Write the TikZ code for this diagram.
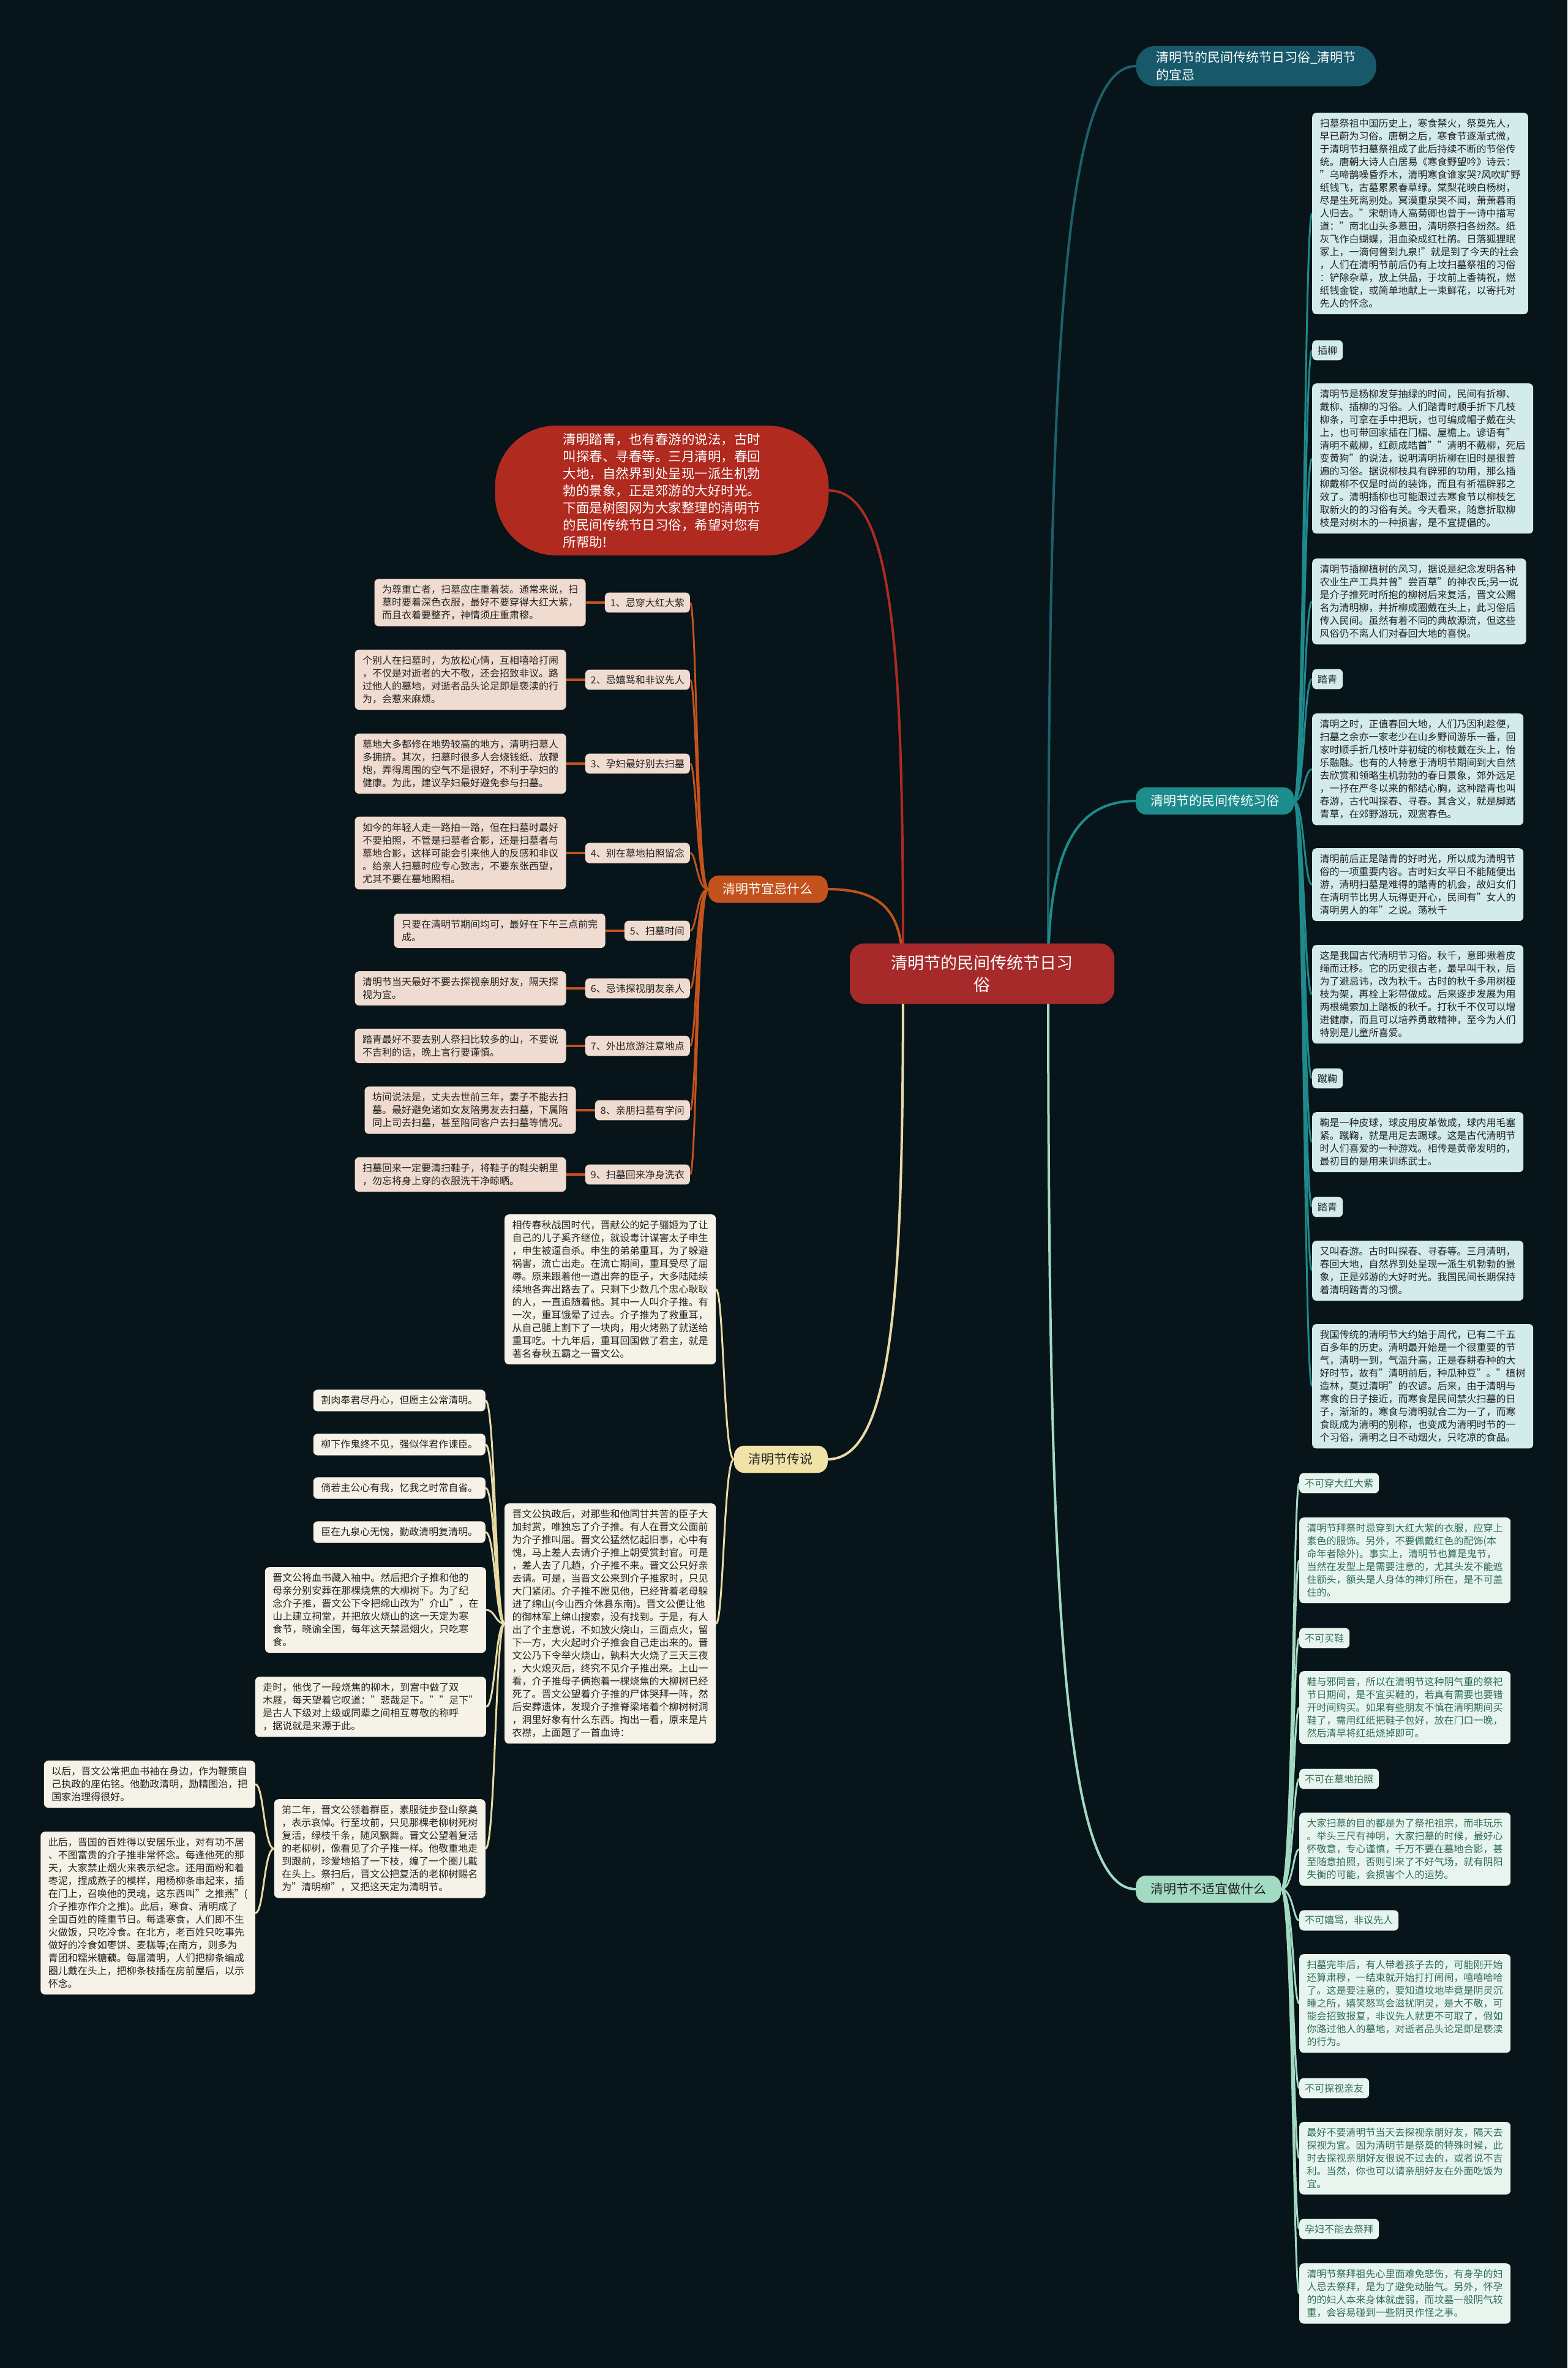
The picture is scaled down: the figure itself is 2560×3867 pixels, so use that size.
\documentclass[tikz,border=0pt]{standalone}
\usepackage{fontspec}
\setmainfont{Noto Sans CJK SC}
\usetikzlibrary{positioning,calc}
\definecolor{bgc}{HTML}{071419}
\definecolor{rootc}{HTML}{A62A2A}
\definecolor{redc}{HTML}{B02A1F}
\definecolor{topc}{HTML}{17596A}
\definecolor{topcon}{HTML}{1E5F6C}
\definecolor{abr}{HTML}{1C8C8C}
\definecolor{afill}{HTML}{D3EBEB}
\definecolor{acon}{HTML}{1F8A8C}
\definecolor{bbr}{HTML}{C4521D}
\definecolor{bfill}{HTML}{F0DBD0}
\definecolor{bcon}{HTML}{C4521D}
\definecolor{cbr}{HTML}{F1E2A8}
\definecolor{cfill}{HTML}{F6F2E7}
\definecolor{ccon}{HTML}{E8DAA4}
\definecolor{dbr}{HTML}{A3DAC2}
\definecolor{dfill}{HTML}{E8F5EF}
\definecolor{dcon}{HTML}{A3DAC2}
\definecolor{dtxt}{HTML}{2F6B58}
\definecolor{txt}{HTML}{232323}
\pgfdeclarelayer{bg}
\pgfsetlayers{bg,main}
\tikzset{
  base/.style={font=\fontsize{16}{21}\selectfont, align=left, rounded corners=7pt, inner ysep=10pt, inner xsep=12.5pt},
  lab/.style={base, inner xsep=9pt, inner ysep=9pt},
  atext/.style={base, fill=afill, text=txt, anchor=north west},
  alab/.style={lab, fill=afill, text=txt, anchor=west},
  dtext/.style={base, fill=dfill, text=dtxt, anchor=north west},
  dlab/.style={lab, fill=dfill, text=dtxt, anchor=west},
  btext/.style={base, fill=bfill, text=txt},
  blab/.style={lab, fill=bfill, text=txt, anchor=east},
  ctext/.style={base, fill=cfill, text=txt},
  branch/.style={font=\fontsize{21}{27}\selectfont, inner xsep=24pt, inner ysep=12.5pt, rounded corners=17pt},
  acn/.style={draw=acon, line width=3pt},
  bcn/.style={draw=bcon, line width=3pt},
  ccn/.style={draw=ccon, line width=3pt},
  dcn/.style={draw=dcon, line width=3pt},
}
\begin{document}
\begin{tikzpicture}[x=1pt,y=-1pt]
\begin{pgfonlayer}{bg}
\fill[bgc] (0,0) rectangle (2560,3867);
\end{pgfonlayer}
\useasboundingbox (0,0) rectangle (2560,3867);

% ---------- central nodes
\node[fill=rootc, text=white, rounded corners=24pt, minimum width=432pt, minimum height=99pt, align=center, font=\fontsize{27}{36}\selectfont] (root) at (1604,1590) {清明节的民间传统节日习\\俗};
\node[fill=redc, text=white, rounded corners=100pt, minimum width=545pt, minimum height=212pt, align=left, font=\fontsize{21.5}{28}\selectfont] (red) at (1081,801) {清明踏青，也有春游的说法，古时\\叫探春、寻春等。三月清明，春回\\大地，自然界到处呈现一派生机勃\\勃的景象，正是郊游的大好时光。\\下面是树图网为大家整理的清明节\\的民间传统节日习俗，希望对您有\\所帮助!};
\node[fill=topc, text=white, rounded corners=32pt, anchor=west, align=left, inner xsep=33pt, inner ysep=9pt, font=\fontsize{21}{29}\selectfont] (top) at (1855,108) {清明节的民间传统节日习俗\_清明节\\的宜忌};
\node[branch, fill=abr, text=white, anchor=west] (brA) at (1855,1308) {清明节的民间传统习俗};
\node[branch, fill=dbr, text=txt, anchor=west] (brD) at (1855,3085) {清明节不适宜做什么};
\node[branch, fill=bbr, text=white, anchor=east] (brB) at (1352,1452) {清明节宜忌什么};
\node[branch, fill=cbr, text=txt, anchor=east] (brC) at (1352,2383) {清明节传说};

% ---------- section A
\node[atext] (a1) at (2143,184) {扫墓祭祖中国历史上，寒食禁火，祭奠先人，\\早已蔚为习俗。唐朝之后，寒食节逐渐式微，\\于清明节扫墓祭祖成了此后持续不断的节俗传\\统。唐朝大诗人白居易《寒食野望吟》诗云：\\"乌啼鹊噪昏乔木，清明寒食谁家哭?风吹旷野\\纸钱飞，古墓累累春草绿。棠梨花映白杨树，\\尽是生死离别处。冥漠重泉哭不闻，萧萧暮雨\\人归去。"宋朝诗人高菊卿也曾于一诗中描写\\道："南北山头多墓田，清明祭扫各纷然。纸\\灰飞作白蝴蝶，泪血染成红杜鹃。日落狐狸眠\\冢上，一滴何曾到九泉!"就是到了今天的社会\\，人们在清明节前后仍有上坟扫墓祭祖的习俗\\：铲除杂草，放上供品，于坟前上香祷祝，燃\\纸钱金锭，或简单地献上一束鲜花，以寄托对\\先人的怀念。};
\node[alab] (al1) at (2143,572) {插柳};
\node[atext] (a2) at (2143,626) {清明节是杨柳发芽抽绿的时间，民间有折柳、\\戴柳、插柳的习俗。人们踏青时顺手折下几枝\\柳条，可拿在手中把玩，也可编成帽子戴在头\\上，也可带回家插在门楣、屋檐上。谚语有"\\清明不戴柳，红颜成皓首""清明不戴柳，死后\\变黄狗"的说法，说明清明折柳在旧时是很普\\遍的习俗。据说柳枝具有辟邪的功用，那么插\\柳戴柳不仅是时尚的装饰，而且有祈福辟邪之\\效了。清明插柳也可能跟过去寒食节以柳枝乞\\取新火的的习俗有关。今天看来，随意折取柳\\枝是对树木的一种损害，是不宜提倡的。};
\node[atext] (a3) at (2143,912) {清明节插柳植树的风习，据说是纪念发明各种\\农业生产工具并曾"尝百草"的神农氏;另一说\\是介子推死时所抱的柳树后来复活，晋文公赐\\名为清明柳，并折柳成圈戴在头上，此习俗后\\传入民间。虽然有着不同的典故源流，但这些\\风俗仍不离人们对春回大地的喜悦。};
\node[alab] (al2) at (2143,1109) {踏青};
\node[atext] (a4) at (2143,1165) {清明之时，正值春回大地，人们乃因利趁便，\\扫墓之余亦一家老少在山乡野间游乐一番，回\\家时顺手折几枝叶芽初绽的柳枝戴在头上，怡\\乐融融。也有的人特意于清明节期间到大自然\\去欣赏和领略生机勃勃的春日景象，郊外远足\\，一抒在严冬以来的郁结心胸，这种踏青也叫\\春游，古代叫探春、寻春。其含义，就是脚踏\\青草，在郊野游玩，观赏春色。};
\node[atext] (a5) at (2143,1385) {清明前后正是踏青的好时光，所以成为清明节\\俗的一项重要内容。古时妇女平日不能随便出\\游，清明扫墓是难得的踏青的机会，故妇女们\\在清明节比男人玩得更开心，民间有"女人的\\清明男人的年"之说。荡秋千};
\node[atext] (a6) at (2143,1543) {这是我国古代清明节习俗。秋千，意即揪着皮\\绳而迁移。它的历史很古老，最早叫千秋，后\\为了避忌讳，改为秋千。古时的秋千多用树桠\\枝为架，再栓上彩带做成。后来逐步发展为用\\两根绳索加上踏板的秋千。打秋千不仅可以增\\进健康，而且可以培养勇敢精神，至今为人们\\特别是儿童所喜爱。};
\node[alab] (al3) at (2143,1761) {蹴鞠};
\node[atext] (a7) at (2143,1816) {鞠是一种皮球，球皮用皮革做成，球内用毛塞\\紧。蹴鞠，就是用足去踢球。这是古代清明节\\时人们喜爱的一种游戏。相传是黄帝发明的，\\最初目的是用来训练武士。};
\node[alab] (al4) at (2143,1971) {踏青};
\node[atext] (a8) at (2143,2026) {又叫春游。古时叫探春、寻春等。三月清明，\\春回大地，自然界到处呈现一派生机勃勃的景\\象，正是郊游的大好时光。我国民间长期保持\\着清明踏青的习惯。};
\node[atext] (a9) at (2143,2162) {我国传统的清明节大约始于周代，已有二千五\\百多年的历史。清明最开始是一个很重要的节\\气，清明一到，气温升高，正是春耕春种的大\\好时节，故有"清明前后，种瓜种豆"。"植树\\造林，莫过清明"的农谚。后来，由于清明与\\寒食的日子接近，而寒食是民间禁火扫墓的日\\子，渐渐的，寒食与清明就合二为一了，而寒\\食既成为清明的别称，也变成为清明时节的一\\个习俗，清明之日不动烟火，只吃凉的食品。};

% ---------- section D
\node[dlab] (dl1) at (2122,2422) {不可穿大红大紫};
\node[dtext] (d1) at (2122,2478) {清明节拜祭时忌穿到大红大紫的衣服，应穿上\\素色的服饰。另外，不要佩戴红色的配饰(本\\命年者除外)。事实上，清明节也算是鬼节，\\当然在发型上是需要注意的，尤其头发不能遮\\住额头，额头是人身体的神灯所在，是不可盖\\住的。};
\node[dlab] (dl2) at (2122,2675) {不可买鞋};
\node[dtext] (d2) at (2122,2729) {鞋与邪同音，所以在清明节这种阴气重的祭祀\\节日期间，是不宜买鞋的，若真有需要也要错\\开时间购买。如果有些朋友不慎在清明期间买\\鞋了，需用红纸把鞋子包好，放在门口一晚，\\然后清早将红纸烧掉即可。};
\node[dlab] (dl3) at (2122,2905) {不可在墓地拍照};
\node[dtext] (d3) at (2122,2960) {大家扫墓的目的都是为了祭祀祖宗，而非玩乐\\。举头三尺有神明，大家扫墓的时候，最好心\\怀敬意，专心谨慎，千万不要在墓地合影，甚\\至随意拍照，否则引来了不好气场，就有阴阳\\失衡的可能，会损害个人的运势。};
\node[dlab] (dl4) at (2122,3136) {不可嬉骂，非议先人};
\node[dtext] (d4) at (2122,3191) {扫墓完毕后，有人带着孩子去的，可能刚开始\\还算肃穆，一结束就开始打打闹闹，嘻嘻哈哈\\了。这是要注意的，要知道坟地毕竟是阴灵沉\\睡之所，嬉笑怒骂会滋扰阴灵，是大不敬，可\\能会招致报复，非议先人就更不可取了，假如\\你路过他人的墓地，对逝者品头论足即是亵渎\\的行为。};
\node[dlab] (dl5) at (2122,3410) {不可探视亲友};
\node[dtext] (d5) at (2122,3465) {最好不要清明节当天去探视亲朋好友，隔天去\\探视为宜。因为清明节是祭奠的特殊时候，此\\时去探视亲朋好友很说不过去的，或者说不吉\\利。当然，你也可以请亲朋好友在外面吃饭为\\宜。};
\node[dlab] (dl6) at (2122,3640) {孕妇不能去祭拜};
\node[dtext] (d6) at (2122,3696) {清明节祭拜祖先心里面难免悲伤，有身孕的妇\\人忌去祭拜，是为了避免动胎气。另外，怀孕\\的的妇人本来身体就虚弱，而坟墓一般阴气较\\重，会容易碰到一些阴灵作怪之事。};

% ---------- section B
\node[blab] (b1) at (1127,984) {1、忌穿大红大紫};
\node[blab] (b2) at (1127,1110) {2、忌嬉骂和非议先人};
\node[blab] (b3) at (1127,1247) {3、孕妇最好别去扫墓};
\node[blab] (b4) at (1127,1393) {4、别在墓地拍照留念};
\node[blab] (b5) at (1127,1520) {5、扫墓时间};
\node[blab] (b6) at (1127,1614) {6、忌讳探视朋友亲人};
\node[blab] (b7) at (1127,1708) {7、外出旅游注意地点};
\node[blab] (b8) at (1127,1813) {8、亲朋扫墓有学问};
\node[blab] (b9) at (1127,1918) {9、扫墓回来净身洗衣};
\node[btext, left=31pt of b1] (bt1) {为尊重亡者，扫墓应庄重着装。通常来说，扫\\墓时要着深色衣服，最好不要穿得大红大紫，\\而且衣着要整齐，神情须庄重肃穆。};
\node[btext, left=31pt of b2] (bt2) {个别人在扫墓时，为放松心情，互相嘻哈打闹\\，不仅是对逝者的大不敬，还会招致非议。路\\过他人的墓地，对逝者品头论足即是亵渎的行\\为，会惹来麻烦。};
\node[btext, left=31pt of b3] (bt3) {墓地大多都修在地势较高的地方，清明扫墓人\\多拥挤。其次，扫墓时很多人会烧钱纸、放鞭\\炮，弄得周围的空气不是很好，不利于孕妇的\\健康。为此，建议孕妇最好避免参与扫墓。};
\node[btext, left=31pt of b4] (bt4) {如今的年轻人走一路拍一路，但在扫墓时最好\\不要拍照，不管是扫墓者合影，还是扫墓者与\\墓地合影，这样可能会引来他人的反感和非议\\。给亲人扫墓时应专心致志，不要东张西望，\\尤其不要在墓地照相。};
\node[btext, left=31pt of b5] (bt5) {只要在清明节期间均可，最好在下午三点前完\\成。};
\node[btext, left=31pt of b6] (bt6) {清明节当天最好不要去探视亲朋好友，隔天探\\视为宜。};
\node[btext, left=31pt of b7] (bt7) {踏青最好不要去别人祭扫比较多的山，不要说\\不吉利的话，晚上言行要谨慎。};
\node[btext, left=31pt of b8] (bt8) {坊间说法是，丈夫去世前三年，妻子不能去扫\\墓。最好避免诸如女友陪男友去扫墓，下属陪\\同上司去扫墓，甚至陪同客户去扫墓等情况。};
\node[btext, left=31pt of b9] (bt9) {扫墓回来一定要清扫鞋子，将鞋子的鞋尖朝里\\，勿忘将身上穿的衣服洗干净晾晒。};

% ---------- section C
\node[ctext, anchor=north west] (c1) at (824,1983) {相传春秋战国时代，晋献公的妃子骊姬为了让\\自己的儿子奚齐继位，就设毒计谋害太子申生\\，申生被逼自杀。申生的弟弟重耳，为了躲避\\祸害，流亡出走。在流亡期间，重耳受尽了屈\\辱。原来跟着他一道出奔的臣子，大多陆陆续\\续地各奔出路去了。只剩下少数几个忠心耿耿\\的人，一直追随着他。其中一人叫介子推。有\\一次，重耳饿晕了过去。介子推为了救重耳，\\从自己腿上割下了一块肉，用火烤熟了就送给\\重耳吃。十九年后，重耳回国做了君主，就是\\著名春秋五霸之一晋文公。};
\node[ctext, anchor=north west] (c2) at (824,2455) {晋文公执政后，对那些和他同甘共苦的臣子大\\加封赏，唯独忘了介子推。有人在晋文公面前\\为介子推叫屈。晋文公猛然忆起旧事，心中有\\愧，马上差人去请介子推上朝受赏封官。可是\\，差人去了几趟，介子推不来。晋文公只好亲\\去请。可是，当晋文公来到介子推家时，只见\\大门紧闭。介子推不愿见他，已经背着老母躲\\进了绵山(今山西介休县东南)。晋文公便让他\\的御林军上绵山搜索，没有找到。于是，有人\\出了个主意说，不如放火烧山，三面点火，留\\下一方，大火起时介子推会自己走出来的。晋\\文公乃下令举火烧山，孰料大火烧了三天三夜\\，大火熄灭后，终究不见介子推出来。上山一\\看，介子推母子俩抱着一棵烧焦的大柳树已经\\死了。晋文公望着介子推的尸体哭拜一阵，然\\后安葬遗体，发现介子推脊梁堵着个柳树树洞\\，洞里好象有什么东西。掏出一看，原来是片\\衣襟，上面题了一首血诗：};
\node[ctext, anchor=east] (p1) at (793,2287) {割肉奉君尽丹心，但愿主公常清明。};
\node[ctext, anchor=east] (p2) at (793,2359) {柳下作鬼终不见，强似伴君作谏臣。};
\node[ctext, anchor=east] (p3) at (793,2430) {倘若主公心有我，忆我之时常自省。};
\node[ctext, anchor=east] (p4) at (793,2502) {臣在九泉心无愧，勤政清明复清明。};
\node[ctext, anchor=north east] (x1) at (794,2559) {晋文公将血书藏入袖中。然后把介子推和他的\\母亲分别安葬在那棵烧焦的大柳树下。为了纪\\念介子推，晋文公下令把绵山改为"介山"，在\\山上建立祠堂，并把放火烧山的这一天定为寒\\食节，晓谕全国，每年这天禁忌烟火，只吃寒\\食。};
\node[ctext, anchor=north east] (x2) at (794,2738) {走时，他伐了一段烧焦的柳木，到宫中做了双\\木屐，每天望着它叹道："悲哉足下。""足下"\\是古人下级对上级或同辈之间相互尊敬的称呼\\，据说就是来源于此。};
\node[ctext, anchor=north east] (x3) at (793,2938) {第二年，晋文公领着群臣，素服徒步登山祭奠\\，表示哀悼。行至坟前，只见那棵老柳树死树\\复活，绿枝千条，随风飘舞。晋文公望着复活\\的老柳树，像看见了介子推一样。他敬重地走\\到跟前，珍爱地掐了一下枝，编了一个圈儿戴\\在头上。祭扫后，晋文公把复活的老柳树赐名\\为"清明柳"，又把这天定为清明节。};
\node[ctext, anchor=north east] (y1) at (417,2875) {以后，晋文公常把血书袖在身边，作为鞭策自\\己执政的座佑铭。他勤政清明，励精图治，把\\国家治理得很好。};
\node[ctext, anchor=north east] (y2) at (417,2991) {此后，晋国的百姓得以安居乐业，对有功不居\\、不图富贵的介子推非常怀念。每逢他死的那\\天，大家禁止烟火来表示纪念。还用面粉和着\\枣泥，捏成燕子的模样，用杨柳条串起来，插\\在门上，召唤他的灵魂，这东西叫"之推燕"(\\介子推亦作介之推)。此后，寒食、清明成了\\全国百姓的隆重节日。每逢寒食，人们即不生\\火做饭，只吃冷食。在北方，老百姓只吃事先\\做好的冷食如枣饼、麦糕等;在南方，则多为\\青团和糯米糖藕。每届清明，人们把柳条编成\\圈儿戴在头上，把柳条枝插在房前屋后，以示\\怀念。};

% ---------- connectors
\coordinate (spA) at (2130,0);
\coordinate (spD) at (2112,0);
\coordinate (spB) at (1138,0);
\coordinate (spC) at (1182,0);
\coordinate (spC2) at (809,0);
\coordinate (spX3) at (431,0);
\coordinate (rootR) at (1712,1590);
\coordinate (rootL) at (1475,1590);
\begin{pgfonlayer}{bg}
\draw[draw=topcon, line width=4pt] (rootR) .. controls +(0,-1000) and +(-120,0) .. (top.west);
\draw[draw=abr, line width=4pt] (rootR) .. controls +(0,-200) and +(-100,0) .. (brA.west);
\draw[draw=dbr, line width=4pt] (rootR) .. controls +(0,1000) and +(-120,0) .. (brD.west);
\draw[draw=redc, line width=4pt] (rootL) .. controls +(0,-500) and +(110,0) .. (red.east);
\draw[draw=bbr, line width=4pt] (rootL) .. controls +(0,-90) and +(100,0) .. (brB.east);
\draw[draw=ccon, line width=4pt] (rootL) .. controls +(0,500) and +(110,0) .. (brC.east);
\foreach \n in {a1,al1,a2,a3,al2,a4,a5,a6,al3,a7,al4,a8,a9}
  \draw[acn] (brA.east) .. controls (brA.east -| spA) and (\n.west -| spA) .. (\n.west);
\foreach \n in {dl1,d1,dl2,d2,dl3,d3,dl4,d4,dl5,d5,dl6,d6}
  \draw[dcn] (brD.east) .. controls (brD.east -| spD) and (\n.west -| spD) .. (\n.west);
\foreach \n in {b1,b2,b3,b4,b5,b6,b7,b8,b9}
  \draw[bcn] (brB.west) .. controls (brB.west -| spB) and (\n.east -| spB) .. (\n.east);
\foreach \n in {1,...,9}
  \draw[bcn, line width=4pt] (b\n.west) -- (bt\n.east);
\foreach \n in {c1,c2}
  \draw[ccn] (brC.west) .. controls (brC.west -| spC) and (\n.east -| spC) .. (\n.east);
\foreach \n in {p1,p2,p3,p4,x1,x2,x3}
  \draw[ccn] (c2.west) .. controls (c2.west -| spC2) and (\n.east -| spC2) .. (\n.east);
\foreach \n in {y1,y2}
  \draw[ccn] (x3.west) .. controls (x3.west -| spX3) and (\n.east -| spX3) .. (\n.east);
\end{pgfonlayer}
\end{tikzpicture}
\end{document}
